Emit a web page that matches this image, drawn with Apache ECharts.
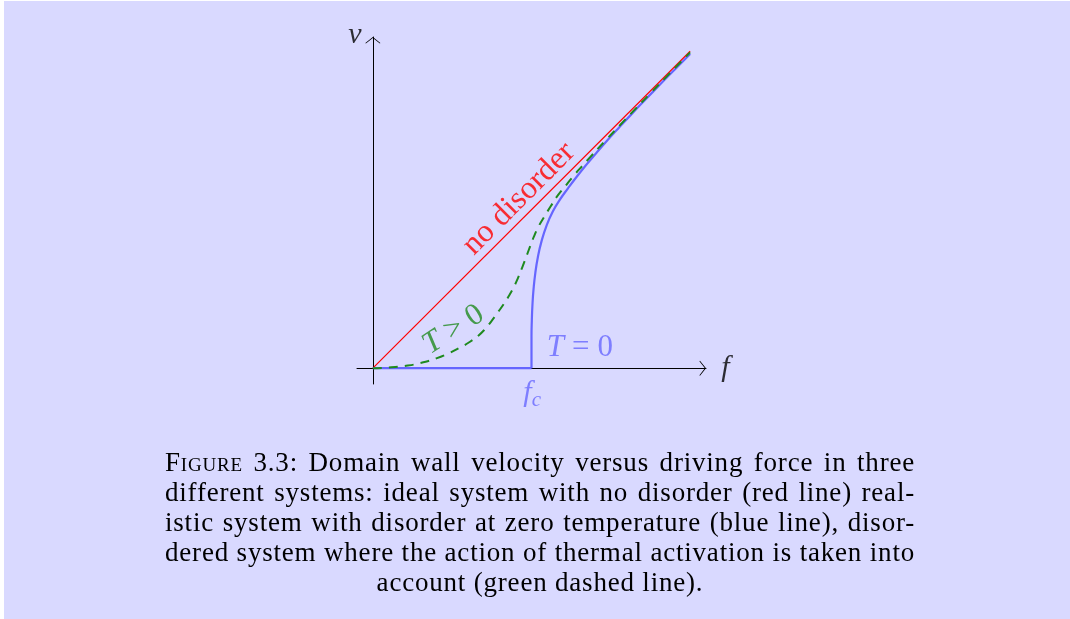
<!DOCTYPE html>
<html>
<head>
<meta charset="utf-8">
<script src="https://cdn.jsdelivr.net/npm/echarts@6/dist/echarts.min.js"></script>
<style>
  html, body { margin: 0; padding: 0; background: #ffffff; }
  #wrap { position: relative; width: 1070px; height: 619px; overflow: hidden; background: #d9d9ff; }
  #edgeL { position: absolute; left: 0; top: 0; width: 4px; height: 619px; background: #ffffff; z-index: 3; }
  #edgeT { position: absolute; left: 0; top: 0; width: 1070px; height: 1px; background: #ffffff; z-index: 3; }
  #chart { position: absolute; left: 0; top: 0; width: 1070px; height: 619px; }
  #caption {
    position: absolute; left: 165px; top: 448px; width: 750px;
    font-family: "Liberation Serif", "DejaVu Serif", serif; font-size: 27px; line-height: 29.9px;
    letter-spacing: 0.8px; color: #000;
  }
  #caption div { text-align: justify; text-align-last: justify; white-space: nowrap; }
  #caption div.last { text-align: center; text-align-last: center; }
  .sc { font-variant: small-caps; }
</style>
</head>
<body>
<div id="wrap">
  <div id="chart"></div>
  <div id="caption">
    <div><span class="sc">Figure</span> 3.3: Domain wall velocity versus driving force in three</div>
    <div>different systems: ideal system with no disorder (red line) real-</div>
    <div>istic system with disorder at zero temperature (blue line), disor-</div>
    <div>dered system where the action of thermal activation is taken into</div>
    <div class="last">account (green dashed line).</div>
  </div>
  <div id="edgeL"></div>
  <div id="edgeT"></div>
</div>
<script>
// Driving force f (in units of the depinning force f_c) and wall velocity v.
const noDisorder = [[0, 0], [2, 2]];
const zeroTempFlat = [[0, 0], [1, 0]];
const zeroTempCurve = [
  [1.0, 0], [1.0, 0.1], [1.0, 0.2], [1.002, 0.3], [1.006, 0.4], [1.013, 0.5],
  [1.024, 0.6], [1.04, 0.7], [1.063, 0.8], [1.095, 0.9], [1.135, 0.99],
  [1.18, 1.065], [1.23, 1.135], [1.285, 1.208], [1.345, 1.283], [1.41, 1.36],
  [1.48, 1.44], [1.555, 1.522], [1.635, 1.608], [1.72, 1.697], [1.81, 1.79],
  [1.905, 1.887], [2.0, 1.983]
];
const thermalCurve = [
  [0, 0], [0.1, 0.004], [0.2, 0.014], [0.3, 0.032], [0.4, 0.062], [0.48, 0.095],
  [0.55, 0.13], [0.61, 0.165], [0.665, 0.205], [0.71, 0.25], [0.75, 0.3],
  [0.79, 0.355], [0.825, 0.405], [0.86, 0.46], [0.89, 0.515], [0.915, 0.57],
  [0.94, 0.632], [0.965, 0.698], [0.99, 0.765], [1.015, 0.83], [1.045, 0.895],
  [1.08, 0.955], [1.12, 1.02], [1.167, 1.092], [1.22, 1.157], [1.274, 1.224],
  [1.32, 1.276], [1.37, 1.332], [1.465, 1.435], [1.56, 1.536], [1.65, 1.631],
  [1.75, 1.735], [1.85, 1.8385], [2.0, 1.993]
];

// Annotation texts (rich-text markup) and their anchors in (f, v) coordinates.
const labelTexts = ['{mi|v}', '{mi|f}', '{mi|f}{sub|c}', '{mi|T}{op|=}{rm|0}', '{mi|T}{op|>}{rm|0}', '{rm|no disorder}'];
const labelAnchors = [[-0.113, 2.099], [2.223, -0.002], [1.004, -0.159], [1.305, 0.128], [0.508, 0.243], [0.921, 1.069]];

const RED = '#ff0000';
const BLUE = '#6666ff';
const GREEN = '#1f8a1f';
const labelColors = ['#000000', '#000000', BLUE, BLUE, GREEN, RED];
const labelRotations = [0, 0, 0, 0, 33, 45];
const labelSizes = [30, 30, 30, 31, 31, 32];

const SERIF = '"Liberation Serif", "DejaVu Serif", serif';
function richFor(color, size) {
  return {
    mi: { fontFamily: SERIF, fontStyle: 'italic', fontSize: size, color: color, lineHeight: 36, verticalAlign: 'middle' },
    rm: { fontFamily: SERIF, fontSize: size, color: color, lineHeight: 36, verticalAlign: 'middle' },
    op: { fontFamily: SERIF, fontSize: size, color: color, lineHeight: 36, verticalAlign: 'middle', padding: [0, 8, 0, 8] },
    sub: { fontFamily: SERIF, fontStyle: 'italic', fontSize: Math.round(size * 0.7), color: color, lineHeight: 20, verticalAlign: 'bottom' }
  };
}

// Open chevron used as the arrow head of both axes.
const chevron = 'path://M0,0 L7.5,6 L7,6.6 L0,1.1 L-7,6.6 L-7.5,6 Z';
const axisArrow = {
  show: true,
  onZero: true,
  symbol: ['none', chevron],
  symbolSize: [15, 6.6],
  symbolOffset: [0, -3.3],
  lineStyle: { color: '#000000', width: 1 }
};

const chart = echarts.init(document.getElementById('chart'), null, { renderer: 'canvas' });
chart.setOption({
  backgroundColor: 'transparent',
  animation: false,
  grid: { left: 357, right: 364, top: 37, bottom: 235 },
  xAxis: {
    type: 'value', min: -0.1, max: 2.1,
    axisLine: axisArrow, axisTick: { show: false }, axisLabel: { show: false }, splitLine: { show: false }
  },
  yAxis: {
    type: 'value', min: -0.1, max: 2.09,
    axisLine: axisArrow, axisTick: { show: false }, axisLabel: { show: false }, splitLine: { show: false }
  },
  series: [
    {
      name: 'no disorder', type: 'line', data: noDisorder, showSymbol: false, z: 2,
      lineStyle: { color: RED, width: 1.2 }
    },
    {
      name: 'T = 0 (pinned)', type: 'line', data: zeroTempFlat, showSymbol: false, z: 3,
      lineStyle: { color: BLUE, width: 2.2 }
    },
    {
      name: 'T = 0 (depinned)', type: 'line', data: zeroTempCurve, showSymbol: false, z: 3,
      smooth: 0.5, lineStyle: { color: BLUE, width: 2.2 }
    },
    {
      name: 'T > 0', type: 'line', data: thermalCurve, showSymbol: false, z: 4,
      smooth: 0.5, lineStyle: { color: GREEN, width: 2, type: [9, 7] }
    },
    {
      name: 'labels', type: 'scatter', clip: false, silent: true, z: 5,
      symbolSize: 1, itemStyle: { color: 'transparent' },
      data: labelAnchors.map(function (p, i) {
        return {
          value: p,
          label: {
            show: true, position: 'inside', align: 'center', verticalAlign: 'middle',
            rotate: labelRotations[i],
            formatter: labelTexts[i],
            rich: richFor(labelColors[i], labelSizes[i])
          }
        };
      })
    }
  ]
});
</script>
</body>
</html>
